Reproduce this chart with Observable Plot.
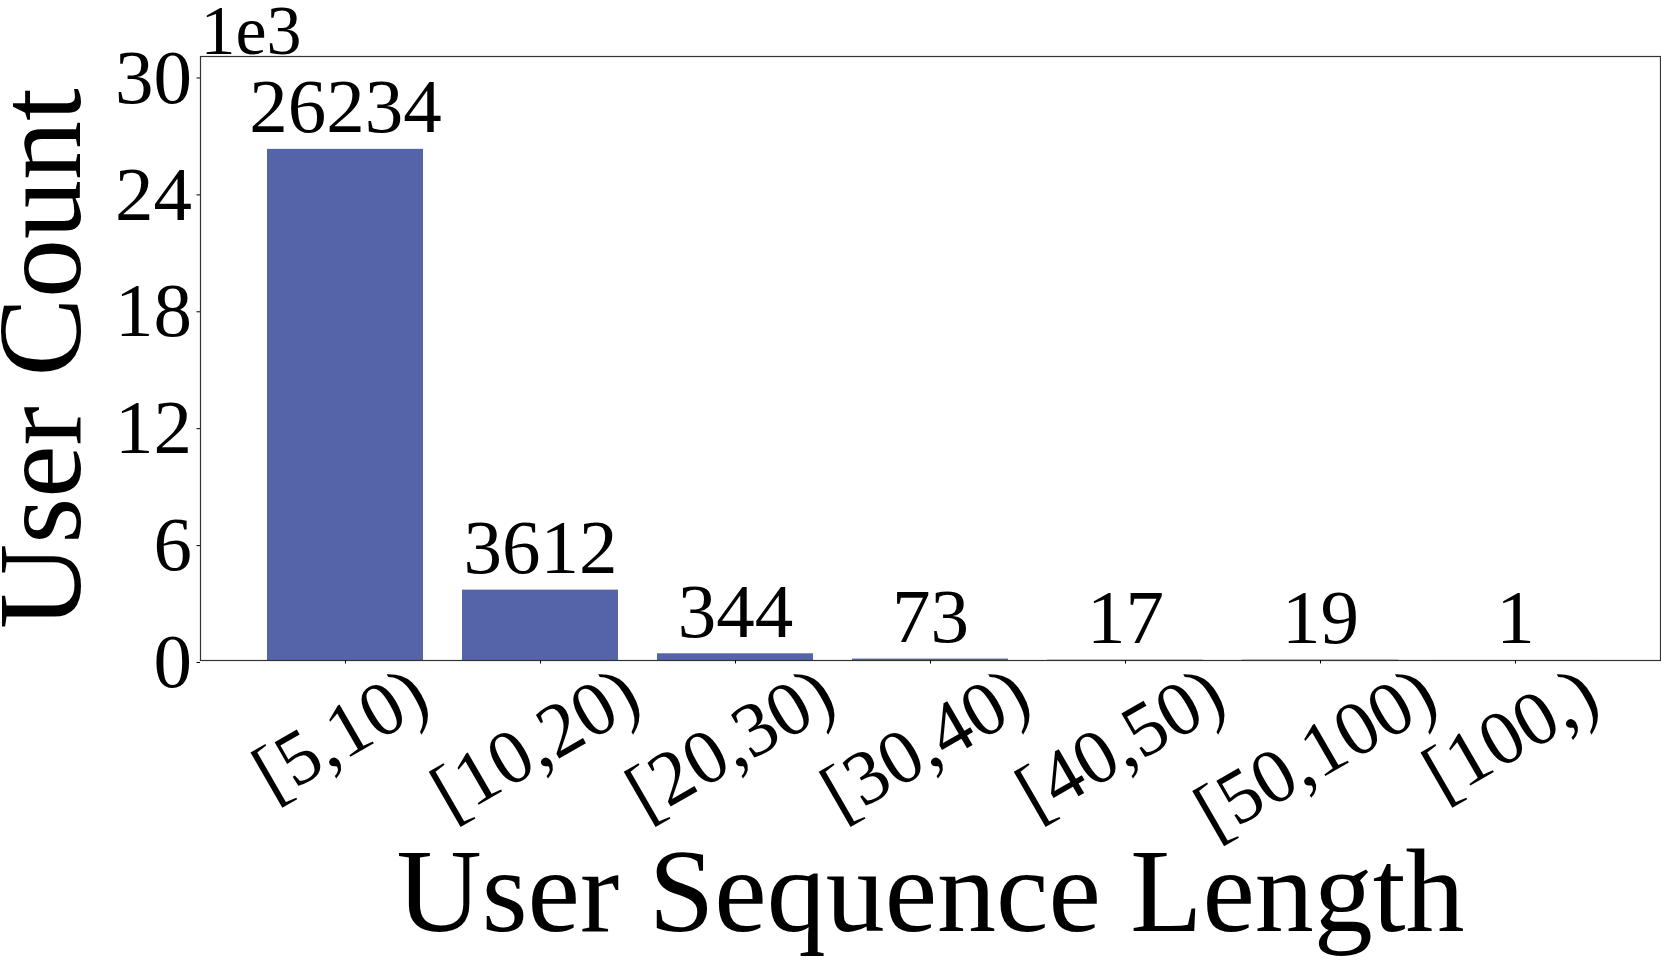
<!DOCTYPE html>
<html><head><meta charset="utf-8">
<script src="https://cdn.jsdelivr.net/npm/d3@7"></script>
<script src="https://cdn.jsdelivr.net/npm/@observablehq/plot@0.6"></script>
<style>body{margin:0;background:#fff}</style>
</head><body><div id="chart"></div>
<script>
const categories = ["[5,10)", "[10,20)", "[20,30)", "[30,40)", "[40,50)", "[50,100)", "[100,)"];
const counts = [26234, 3612, 344, 73, 17, 19, 1];
const yTicks = [0, 6000, 12000, 18000, 24000, 30000];
const xTitle = "User Sequence Length";
const yTitle = "User Count";
const offsetLabel = "1e3";

const data = categories.map((c, i) => ({category: c, count: counts[i]}));
const FONT = "'Liberation Serif', 'Times New Roman', serif";
const tickFont = 77;
const ctx = document.createElement("canvas").getContext("2d");
ctx.font = `${tickFont}px 'Liberation Serif'`;
const sin30 = Math.sin(Math.PI / 6), cos30 = Math.cos(Math.PI / 6);
const lineH = 0.9 * tickFont;
const xLabelMarks = categories.map(c => {
  const w = ctx.measureText(c).width;
  const H = w * sin30 + lineH * cos30;
  return Plot.text([c], {
    x: d => d, frameAnchor: "bottom", text: d => d, rotate: -30,
    textAnchor: "middle", lineAnchor: "middle", dx: -5, dy: -3 + H / 2, fontSize: tickFont
  });
});

const chart = Plot.plot({
  width: 1661, height: 960,
  marginLeft: 200, marginRight: 1, marginTop: 56, marginBottom: 300,
  x: {type: "band", domain: categories, paddingInner: 0.2, paddingOuter: 0.34},
  y: {domain: [0, 31000]},
  style: {fontFamily: FONT, background: "#fff", color: "#000"},
  marks: [
    Plot.barY(data, {x: "category", y: "count", fill: "#5563a8"}),
    Plot.frame({stroke: "#333", strokeWidth: 1.2}),
    Plot.axisY(yTicks, {tickSize: 3.5, tickPadding: 5, tickFormat: d => d / 1000, fontSize: tickFont, label: null, dy: 2}),
    Plot.axisX({tickSize: 3.5, tickFormat: () => "", label: null}),
    ...xLabelMarks,
    Plot.text(data, {x: "category", y: "count", text: d => String(d.count), lineAnchor: "bottom", dy: -17, fontSize: tickFont}),
    Plot.text([offsetLabel], {frameAnchor: "top-left", text: d => d, textAnchor: "start", lineAnchor: "bottom", dy: -3, fontSize: 70}),
    Plot.text([yTitle], {frameAnchor: "left", text: d => d, rotate: -90, textAnchor: "middle", lineAnchor: "bottom", dx: -121, fontSize: 118}),
    Plot.text([xTitle], {frameAnchor: "bottom", text: d => d, lineAnchor: "bottom", dy: 270, fontSize: 118})
  ]
});
document.getElementById("chart").appendChild(chart);
</script>
</body></html>
